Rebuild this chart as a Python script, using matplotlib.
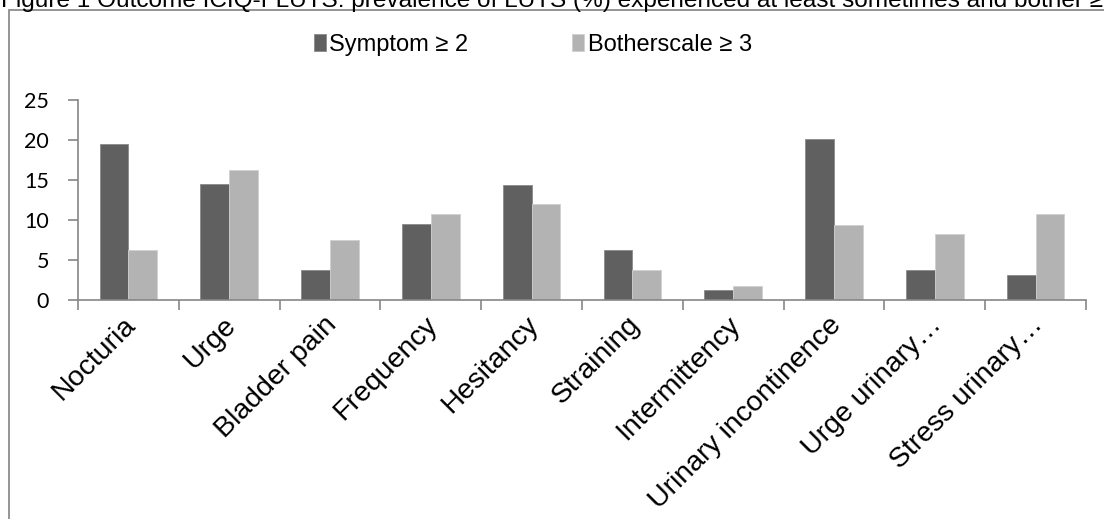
import numpy as np
import matplotlib
matplotlib.use("Agg")
import matplotlib.pyplot as plt
from matplotlib import patches

# Data
categories = ["Nocturia", "Urge", "Bladder pain", "Frequency", "Hesitancy",
              "Straining", "Intermittency", "Urinary incontinence",
              "Urge urinary\u2026", "Stress urinary\u2026"]
symptom = [19.5, 14.5, 3.8, 9.5, 14.4, 6.2, 1.2, 20.1, 3.8, 3.1]
bother = [6.3, 16.3, 7.5, 10.7, 12.0, 3.8, 1.8, 9.4, 8.2, 10.7]
series_labels = ["Symptom \u2265 2", "Botherscale \u2265 3"]
yticks = [0, 5, 10, 15, 20, 25]
title = ("Figure 1 Outcome ICIQ-FLUTS: prevalence of LUTS (%) experienced "
         "at least sometimes and bother \u2265 3")

dark = "#606060"
light = "#b3b3b3"
axis_gray = "#868686"

W, H = 1104, 519
plt.rcParams['font.family'] = ['Liberation Sans', 'DejaVu Sans']
fig = plt.figure(figsize=(W / 100, H / 100), dpi=100)

ax = fig.add_axes([78 / W, 1 - 300 / H, 1008 / W, 200 / H])

x = np.arange(len(categories))
bw = 1 / 3.5
ax.bar(x - bw / 2, symptom, bw, color=dark, edgecolor="#8a8a8a", linewidth=0.6,
       label=series_labels[0])
ax.bar(x + bw / 2, bother, bw, color=light, edgecolor="#d0d0d0", linewidth=0.6,
       label=series_labels[1])

ax.set_xlim(-0.5, len(categories) - 0.5)
ax.set_ylim(0, 25)
ax.set_yticks(yticks)
ax.set_yticklabels([str(v) for v in yticks], family=['Lato', 'DejaVu Sans'],
                   fontsize=15.5)

# category boundary ticks on x axis
ax.set_xticks(np.arange(len(categories) + 1) - 0.5)
ax.set_xticklabels([])
ax.tick_params(axis='x', direction='out', length=7, width=1.2, color=axis_gray)
ax.tick_params(axis='y', direction='out', length=7, width=1.2, color=axis_gray, pad=14)

for i, lab in enumerate(categories):
    ax.text(i + 0.03, -2.6, lab, rotation=45, rotation_mode='anchor',
            ha='right', va='center', fontsize=20.5, color='black')

for side in ["top", "right"]:
    ax.spines[side].set_visible(False)
for side in ["left", "bottom"]:
    ax.spines[side].set_color(axis_gray)
    ax.spines[side].set_linewidth(1.2)

# legend
fig.legend(loc='center left', bbox_to_anchor=(314 / W, 1 - 45 / H), ncol=2,
           frameon=False, fontsize=17, handlelength=0.5, handleheight=0.75,
           handletextpad=0.15, columnspacing=4.4, borderpad=0, borderaxespad=0)

# outer chart border (partly outside image)
frame = patches.Rectangle((9 / W, -0.1), 1.2, 1 - 9.5 / H + 0.1,
                          transform=fig.transFigure, fill=False,
                          edgecolor="#8c8c8c", linewidth=1.3, clip_on=False)
fig.patches.append(frame)

# caption cut off at the top edge, as in the reference
fig.text(1 / W, 1 - 6.5 / H, title, ha='left', va='baseline', fontsize=17.6,
         color='black')

fig.savefig("out.png", dpi=100)
